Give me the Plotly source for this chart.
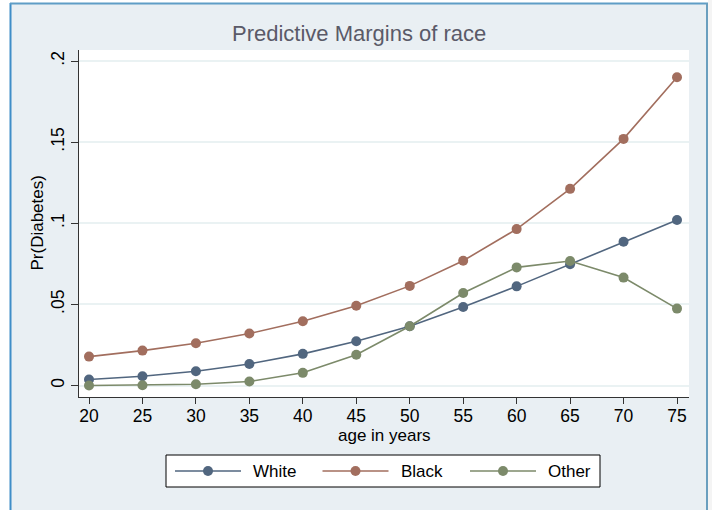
import plotly.graph_objects as go

# ---- data ----
ages = [20, 25, 30, 35, 40, 45, 50, 55, 60, 65, 70, 75]
white = [0.0037, 0.0057, 0.0088, 0.0133, 0.0195, 0.0273, 0.0365, 0.0484, 0.0611, 0.0747, 0.0886, 0.1020]
black = [0.0178, 0.0215, 0.0260, 0.0320, 0.0396, 0.0492, 0.0614, 0.0769, 0.0964, 0.1212, 0.1520, 0.1900]
other = [0.0000, 0.0002, 0.0008, 0.0025, 0.0078, 0.0189, 0.0365, 0.0570, 0.0728, 0.0767, 0.0665, 0.0474]
series_names = ["White", "Black", "Other"]
series_colors = ["#51667f", "#a26e5e", "#7c8a6a"]
y_tickvals = [0, 0.05, 0.1, 0.15, 0.2]
y_ticktext = ["0", ".05", ".1", ".15", ".2"]
x_tickvals = ages

# ---- layout geometry (pixels) ----
W, H = 712, 510
L, R, T, B = 79, 689, 50, 397
FONT = "Liberation Sans, Arial, Helvetica, sans-serif"
BG = "#e9eff3"


def px(x):
    return (x - L) / (R - L)


def py(y):
    return (B - y) / (B - T)


fig = go.Figure()
for name, vals, col in zip(series_names, [white, black, other], series_colors):
    fig.add_trace(go.Scatter(
        x=ages, y=vals, name=name, mode="lines+markers",
        line=dict(color=col, width=1.6),
        marker=dict(color=col, size=10, line=dict(width=0)),
        showlegend=False,
    ))

shapes = []
# white outside region (screen capture margins)
shapes.append(dict(type="rect", xref="paper", yref="paper", x0=px(-5), x1=px(10), y0=py(-5), y1=py(515),
                   fillcolor="white", line=dict(width=0), layer="below"))
shapes.append(dict(type="rect", xref="paper", yref="paper", x0=px(-5), x1=px(717), y0=py(-5), y1=py(3),
                   fillcolor="white", line=dict(width=0), layer="below"))
shapes.append(dict(type="rect", xref="paper", yref="paper", x0=px(708), x1=px(717), y0=py(-5), y1=py(515),
                   fillcolor="#f4f4f4", line=dict(width=0), layer="below"))
# blue window frame
shapes.append(dict(type="line", xref="paper", yref="paper", x0=px(10.5), x1=px(10.5), y0=py(3), y1=py(515),
                   line=dict(color="#3f8ec8", width=2), layer="below"))
shapes.append(dict(type="line", xref="paper", yref="paper", x0=px(10), x1=px(708), y0=py(3.5), y1=py(3.5),
                   line=dict(color="#5f9dc6", width=2), layer="below"))
shapes.append(dict(type="line", xref="paper", yref="paper", x0=px(707), x1=px(707), y0=py(3), y1=py(515),
                   line=dict(color="#6a9fbf", width=2), layer="below"))

# custom legend
LX0, LX1, LY0, LY1 = 166, 600, 455, 487
LYC = (LY0 + LY1) / 2
shapes.append(dict(type="rect", xref="paper", yref="paper", x0=px(LX0), x1=px(LX1), y0=py(LY1), y1=py(LY0),
                   fillcolor="white", line=dict(color="black", width=1)))
annotations = []
for i, (name, col) in enumerate(zip(series_names, series_colors)):
    base = 175 + i * 147.5
    shapes.append(dict(type="line", xref="paper", yref="paper", x0=px(base), x1=px(base + 66),
                       y0=py(LYC), y1=py(LYC), line=dict(color=col, width=1.6)))
    m = base + 33
    shapes.append(dict(type="circle", xref="paper", yref="paper", x0=px(m - 5), x1=px(m + 5),
                       y0=py(LYC + 5), y1=py(LYC - 5), fillcolor=col, line=dict(width=0)))
    annotations.append(dict(x=px(base + 76), y=py(LYC), xref="paper", yref="paper", text=name,
                            showarrow=False, xanchor="left", yanchor="middle",
                            font=dict(family=FONT, size=17, color="black")))

# axis titles
annotations.append(dict(x=px(384), y=py(435.5), xref="paper", yref="paper", text="age in years",
                        showarrow=False, xanchor="center", yanchor="middle",
                        font=dict(family=FONT, size=17, color="black")))
annotations.append(dict(x=px(37), y=py(223.5), xref="paper", yref="paper", text="Pr(Diabetes)",
                        showarrow=False, xanchor="center", yanchor="middle", textangle=-90,
                        font=dict(family=FONT, size=17, color="black")))
# title
annotations.append(dict(x=px(358.5), y=py(33), xref="paper", yref="paper", text="Predictive Margins of race",
                        showarrow=False, xanchor="center", yanchor="middle",
                        font=dict(family=FONT, size=22, color="#5a5a68")))

xmin = 20 - (89 - L) / 10.69
xmax = 75 + (R - 677) / 10.69
ymin = -11.5 / 1622.5
ymax = 0.2 + 11 / 1622.5

fig.update_layout(
    width=W, height=H,
    margin=dict(l=L, r=W - R, t=T, b=H - B, pad=0, autoexpand=False),
    paper_bgcolor=BG, plot_bgcolor="white",
    font=dict(family=FONT, size=17, color="black"),
    shapes=shapes, annotations=annotations,
    showlegend=False,
    xaxis=dict(range=[xmin, xmax], tickvals=x_tickvals, ticks="outside", ticklen=6, tickwidth=1,
               tickcolor="#333333", showline=True, linecolor="#333333", linewidth=1,
               showgrid=False, zeroline=False, tickfont=dict(size=17.5), ticklabelstandoff=-3),
    yaxis=dict(range=[ymin, ymax], tickvals=y_tickvals, ticktext=y_ticktext, ticks="outside", ticklen=7,
               tickwidth=1, tickcolor="#333333", showline=True, linecolor="#333333", linewidth=1,
               showgrid=True, gridcolor="#eaf2f3", gridwidth=1.5, zeroline=False, tickangle=-90,
               tickfont=dict(size=17.5)),
)

fig.write_html("out.html", config={"displayModeBar": False},
               post_script="document.body.style.margin='0px';document.body.style.overflow='hidden';")
